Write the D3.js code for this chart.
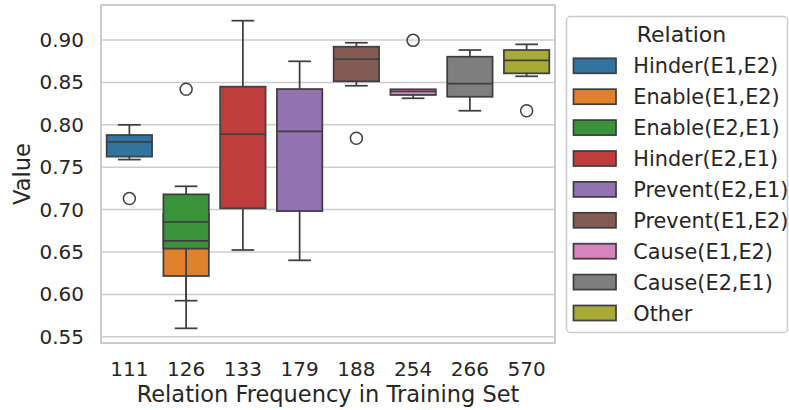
<!DOCTYPE html>
<html>
<head>
<meta charset="utf-8">
<script src="https://cdn.jsdelivr.net/npm/d3@7"></script>
<style>
  body { margin: 0; background: #fff; }
  svg text { font-family: "DejaVu Sans", sans-serif; fill: #262626; }
</style>
</head>
<body>
<svg id="chart" width="789" height="410"></svg>
<script>
// categories on x axis
const frequencies = ["111", "126", "133", "179", "188", "254", "266", "570"];
const yTicks = [0.55, 0.60, 0.65, 0.70, 0.75, 0.80, 0.85, 0.90];

// hue levels, one box each
const relations = ["Hinder(E1,E2)", "Enable(E1,E2)", "Enable(E2,E1)", "Hinder(E2,E1)",
  "Prevent(E2,E1)", "Prevent(E1,E2)", "Cause(E1,E2)", "Cause(E2,E1)", "Other"];
const relationFreq = ["111", "126", "126", "133", "179", "188", "254", "266", "570"];
const colors = ["#3274a1", "#e1812c", "#3a923a", "#c03d3e", "#9372b2",
  "#845b53", "#d684bd", "#7f7f7f", "#a9aa35"];

// box stats
const whiskerLow  = [0.759, 0.5926, 0.560, 0.6524, 0.6402, 0.8461, 0.8313, 0.8166, 0.8572];
const q1          = [0.7625, 0.6217, 0.654, 0.7015, 0.6983, 0.8513, 0.8352, 0.8331, 0.8607];
const medians     = [0.780, 0.663, 0.6854, 0.789, 0.7923, 0.8776, 0.8395, 0.8485, 0.876];
const q3          = [0.788, 0.695, 0.718, 0.845, 0.8422, 0.8921, 0.8419, 0.8803, 0.8882];
const whiskerHigh = [0.800, 0.712, 0.7275, 0.9228, 0.8749, 0.8968, 0.8419, 0.8882, 0.8949];
const outliers    = [[0.713], [], [0.842], [], [], [0.7841], [0.8996], [], [0.8166]];

const svg = d3.select("#chart");
const plot = {left: 101, right: 555, top: 5, bottom: 343};
const lineColor = "#3f3f3f";

const x = d3.scaleBand()
  .domain(frequencies)
  .range([plot.left, plot.right])
  .padding(0);

const y = d3.scaleLinear()
  .domain([0.5427, 0.9413])
  .range([plot.bottom, plot.top]);

// grid
svg.append("g")
  .selectAll("line")
  .data(yTicks)
  .join("line")
  .attr("x1", plot.left).attr("x2", plot.right)
  .attr("y1", d => y(d)).attr("y2", d => y(d))
  .attr("stroke", "#cccccc")
  .attr("stroke-width", 1.5);

// axes
const yAxis = svg.append("g")
  .attr("transform", `translate(${plot.left},0)`)
  .call(d3.axisLeft(y).tickValues(yTicks).tickFormat(d3.format(".2f")).tickSize(0).tickPadding(17));
yAxis.select(".domain").remove();
yAxis.selectAll("text").style("font-size", "20px").style("font-family", "DejaVu Sans").attr("fill", "#262626");

const xAxis = svg.append("g")
  .attr("transform", `translate(0,${plot.bottom})`)
  .call(d3.axisBottom(x).tickSize(0).tickPadding(19));
xAxis.select(".domain").remove();
xAxis.selectAll("text").style("font-size", "20px").style("font-family", "DejaVu Sans").attr("fill", "#262626");

// boxes
const boxWidth = x.bandwidth() * 0.8;
const boxes = svg.append("g");
const medianGroup = svg.append("g");

relations.forEach((rel, i) => {
  const cx = x(relationFreq[i]) + x.bandwidth() / 2;
  const g = boxes.append("g");

  g.append("rect")
    .attr("x", cx - boxWidth / 2)
    .attr("y", y(q3[i]))
    .attr("width", boxWidth)
    .attr("height", y(q1[i]) - y(q3[i]))
    .attr("fill", colors[i])
    .attr("stroke", lineColor)
    .attr("stroke-width", 1.75);

  // whiskers
  [[q1[i], whiskerLow[i]], [q3[i], whiskerHigh[i]]].forEach(([a, b]) => {
    if (a === b) return;
    g.append("line")
      .attr("x1", cx).attr("x2", cx)
      .attr("y1", y(a)).attr("y2", y(b))
      .attr("stroke", lineColor).attr("stroke-width", 1.75);
    g.append("line")
      .attr("x1", cx - boxWidth / 4).attr("x2", cx + boxWidth / 4)
      .attr("y1", y(b)).attr("y2", y(b))
      .attr("stroke", lineColor).attr("stroke-width", 1.75);
  });

  // fliers
  g.selectAll("circle")
    .data(outliers[i])
    .join("circle")
    .attr("cx", cx)
    .attr("cy", d => y(d))
    .attr("r", 6)
    .attr("fill", "none")
    .attr("stroke", lineColor)
    .attr("stroke-width", 1.5);

  // medians sit above every box
  medianGroup.append("line")
    .attr("x1", cx - boxWidth / 2).attr("x2", cx + boxWidth / 2)
    .attr("y1", y(medians[i])).attr("y2", y(medians[i]))
    .attr("stroke", lineColor).attr("stroke-width", 1.75);
});

// frame
svg.append("rect")
  .attr("x", plot.left).attr("y", plot.top)
  .attr("width", plot.right - plot.left)
  .attr("height", plot.bottom - plot.top)
  .attr("fill", "none")
  .attr("stroke", "#cccccc")
  .attr("stroke-width", 2);

// axis labels
svg.append("text")
  .attr("text-anchor", "middle")
  .attr("transform", `translate(30,${(plot.top + plot.bottom) / 2}) rotate(-90)`)
  .style("font-size", "22.5px")
  .text("Value");

svg.append("text")
  .attr("text-anchor", "middle")
  .attr("x", (plot.left + plot.right) / 2)
  .attr("y", 402)
  .style("font-size", "22.5px")
  .text("Relation Frequency in Training Set");

// legend
const legend = svg.append("g");
legend.append("rect")
  .attr("x", 566.5).attr("y", 16.5)
  .attr("width", 221).attr("height", 316)
  .attr("rx", 4)
  .attr("fill", "white")
  .attr("stroke", "#cccccc")
  .attr("stroke-width", 1.5);

legend.append("text")
  .attr("x", 681.5).attr("y", 42)
  .attr("text-anchor", "middle")
  .style("font-size", "22px")
  .text("Relation");

relations.forEach((rel, i) => {
  const ry = 58.3 + i * 30.9;
  legend.append("rect")
    .attr("x", 573.5).attr("y", ry)
    .attr("width", 42.5).attr("height", 15)
    .attr("fill", colors[i])
    .attr("stroke", lineColor)
    .attr("stroke-width", 1.75);
  legend.append("text")
    .attr("x", 633.3).attr("y", ry + 15)
    .style("font-size", "20.8px")
    .text(rel);
});
</script>
</body>
</html>
